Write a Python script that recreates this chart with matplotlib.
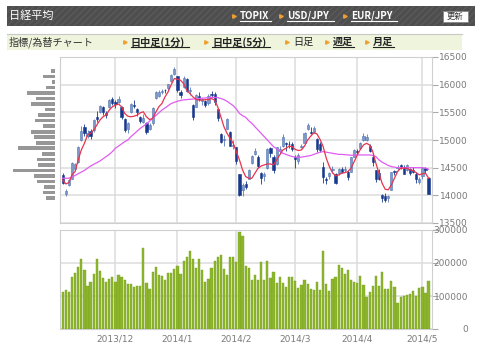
import matplotlib.pyplot as plt
import numpy as np
from matplotlib.patches import Rectangle
from matplotlib.lines import Line2D

# daily candles, 2013/11/7 - 2014/5/7 (119 trading days)
opens = [14370, 14020, 14180, 14300, 14480, 14600, 15000, 15230, 15080, 15170,
         15180, 15420, 15500, 15600, 15480, 15600, 15750, 15680, 15680, 15600,
         15380, 15200, 15500, 15640, 15560, 15420, 15330, 15300, 15200, 15300,
         15760, 15800, 15860, 15900, 15940, 16060, 16200, 16150, 15870, 15950,
         16100, 15890, 15640, 15600, 15800, 15700, 15700, 15660, 15830, 15840,
         15560, 15100, 15000, 15200, 15150, 14890, 14870, 14380, 14100, 14200,
         14300, 14580, 14750, 14700, 14400, 14350, 14500, 14850, 14700, 14560,
         14800, 14900, 14950, 14930, 14920, 14700, 14620, 14880, 14950, 15200,
         15140, 15140, 15020, 14920, 14520, 14290, 14350, 14460, 14380, 14400,
         14480, 14460, 14420, 14430, 14700, 14800, 14850, 15000, 15000, 14900,
         14700, 14450, 14400, 14010, 13990, 13960, 14100, 14440, 14500, 14540,
         14520, 14450, 14480, 14450, 14380, 14250, 14350, 14490, 14310]
highs = [14400, 14110, 14290, 14600, 14580, 14900, 15250, 15290, 15180, 15200,
         15380, 15520, 15640, 15620, 15530, 15750, 15780, 15720, 15800, 15610,
         15400, 15320, 15660, 15720, 15570, 15440, 15470, 15330, 15300, 15600,
         15880, 15900, 15930, 15920, 16020, 16200, 16320, 16160, 15900, 16160,
         16120, 15950, 15650, 15830, 15860, 15760, 15720, 15830, 15880, 15870,
         15570, 15120, 15090, 15400, 15160, 15000, 14880, 14390, 14220, 14260,
         14480, 14720, 14860, 14720, 14420, 14430, 14850, 14880, 14720, 14870,
         14900, 15100, 14970, 14990, 14960, 14720, 14760, 14930, 15150, 15310,
         15230, 15250, 15040, 14960, 14610, 14330, 14430, 14530, 14410, 14500,
         14510, 14530, 14460, 14700, 14840, 14830, 14960, 15120, 15100, 14920,
         14720, 14460, 14470, 14020, 14040, 14010, 14420, 14460, 14550, 14560,
         14540, 14570, 14500, 14520, 14420, 14330, 14500, 14520, 14330]
lows = [14200, 13990, 14160, 14290, 14440, 14590, 14990, 15080, 15030, 15020,
        15150, 15330, 15480, 15450, 15400, 15580, 15640, 15580, 15660, 15380,
        15150, 15130, 15480, 15570, 15440, 15300, 15300, 15110, 15180, 15280,
        15740, 15780, 15830, 15850, 15910, 16040, 16170, 15860, 15760, 15940,
        15860, 15820, 15360, 15590, 15700, 15640, 15600, 15640, 15780, 15640,
        15350, 14950, 14900, 15190, 14890, 14830, 14560, 13990, 13980, 14120,
        14290, 14560, 14720, 14500, 14200, 14260, 14480, 14700, 14400, 14550,
        14750, 14880, 14800, 14860, 14800, 14500, 14570, 14850, 14940, 15180,
        15100, 15130, 14780, 14780, 14230, 14200, 14300, 14400, 14200, 14370,
        14400, 14420, 14280, 14420, 14690, 14740, 14840, 14980, 14990, 14780,
        14530, 14250, 14280, 13880, 13880, 13880, 14090, 14360, 14460, 14470,
        14380, 14440, 14360, 14400, 14220, 14200, 14300, 14410, 14020]
closes = [14228, 14086, 14269, 14588, 14567, 14876, 15165, 15126, 15127, 15076,
          15365, 15381, 15619, 15515, 15449, 15727, 15661, 15655, 15749, 15407,
          15177, 15299, 15650, 15611, 15515, 15341, 15403, 15152, 15279, 15586,
          15859, 15870, 15889, 15895, 16009, 16178, 16291, 15908, 15814, 16121,
          15880, 15912, 15422, 15808, 15747, 15734, 15641, 15795, 15820, 15695,
          15391, 14972, 15006, 15383, 14900, 14914, 14619, 14008, 14181, 14155,
          14462, 14718, 14800, 14534, 14313, 14393, 14843, 14766, 14449, 14865,
          14837, 15051, 14923, 14923, 14841, 14652, 14721, 14897, 15134, 15274,
          15120, 15224, 14830, 14815, 14327, 14277, 14411, 14462, 14224, 14475,
          14423, 14477, 14338, 14696, 14827, 14791, 14946, 15071, 15063, 14808,
          14606, 14299, 14300, 13960, 13910, 13996, 14418, 14417, 14516, 14512,
          14388, 14546, 14404, 14429, 14288, 14304, 14485, 14457, 14033]

# moving averages as drawn on the chart
ma_short = [14278, 14206, 14230, 14370, 14430, 14640, 14820, 14940, 15090, 15120,
            15180, 15270, 15360, 15420, 15450, 15540, 15600, 15630, 15650, 15600,
            15480, 15430, 15420, 15430, 15450, 15490, 15510, 15420, 15370, 15390,
            15500, 15600, 15660, 15780, 15870, 16000, 16110, 16100, 16080, 16020,
            15900, 15840, 15780, 15735, 15720, 15720, 15730, 15730, 15750, 15720,
            15600, 15420, 15240, 15120, 15030, 14940, 14790, 14640, 14460, 14340,
            14308, 14308, 14400, 14490, 14530, 14550, 14567, 14567, 14550, 14640,
            14730, 14820, 14850, 14890, 14880, 14830, 14810, 14820, 14890, 15000,
            15070, 15130, 15110, 15010, 14880, 14670, 14520, 14410, 14350, 14370,
            14400, 14410, 14430, 14490, 14610, 14730, 14830, 14910, 14940, 14910,
            14790, 14580, 14400, 14220, 14110, 14100, 14190, 14310, 14430, 14490,
            14490, 14490, 14460, 14450, 14410, 14370, 14390, 14400, 14310]
ma_long = [14308, 14308, 14310, 14330, 14360, 14390, 14420, 14450, 14490, 14530,
           14560, 14590, 14620, 14660, 14700, 14740, 14790, 14850, 14890, 14930,
           14970, 15000, 15060, 15110, 15160, 15210, 15250, 15290, 15340, 15390,
           15440, 15490, 15540, 15580, 15620, 15660, 15680, 15700, 15715, 15725,
           15730, 15735, 15740, 15745, 15750, 15755, 15760, 15765, 15770, 15770,
           15765, 15750, 15730, 15700, 15660, 15620, 15560, 15480, 15440, 15410,
           15350, 15300, 15240, 15180, 15120, 15060, 15000, 14940, 14880, 14840,
           14800, 14760, 14740, 14720, 14700, 14690, 14690, 14690, 14700, 14710,
           14720, 14740, 14760, 14780, 14790, 14780, 14770, 14760, 14750, 14740,
           14740, 14735, 14730, 14725, 14725, 14730, 14730, 14730, 14730, 14730,
           14720, 14700, 14640, 14600, 14570, 14540, 14520, 14510, 14500, 14500,
           14500, 14500, 14500, 14500, 14500, 14500, 14500, 14490, 14470]

volumes = [111000, 117000, 113000, 158000, 171000, 188000, 211000, 180000, 129000, 141000,
           168000, 211000, 176000, 155000, 143000, 153000, 158000, 143000, 165000, 157000,
           149000, 135000, 136000, 126000, 129000, 131000, 246000, 138000, 120000, 174000,
           189000, 164000, 161000, 147000, 171000, 171000, 182000, 192000, 166000, 205000,
           217000, 236000, 213000, 185000, 213000, 180000, 141000, 153000, 185000, 206000,
           219000, 224000, 182000, 164000, 219000, 218000, 203000, 295000, 281000, 192000,
           185000, 150000, 164000, 148000, 203000, 150000, 205000, 154000, 173000, 140000,
           159000, 140000, 126000, 159000, 159000, 146000, 125000, 132000, 149000, 137000,
           120000, 118000, 141000, 117000, 236000, 137000, 115000, 153000, 157000, 195000,
           185000, 166000, 178000, 150000, 141000, 138000, 162000, 133000, 96000, 113000,
           131000, 162000, 129000, 174000, 120000, 120000, 144000, 126000, 78000, 96000,
           99000, 102000, 106000, 114000, 99000, 124000, 128000, 108000, 144000]

# volume by price (relative), 100-yen bins
vp_prices = [16250, 16150, 16050, 15950, 15850, 15750, 15650, 15550, 15450, 15350, 15250, 15150,
             15050, 14950, 14850, 14750, 14650, 14550, 14450, 14350, 14250, 14150, 14050, 13950]
vp_values = [4.0, 12.3, 3.3, 9.3, 27.7, 19.0, 24.0, 10.0, 16.7, 20.0, 11.7, 24.0,
             21.0, 19.0, 37.3, 12.7, 17.7, 16.7, 41.7, 21.0, 17.7, 10.7, 12.3, 9.3]

month_pos = [17, 37, 56, 75, 95, 116]
month_labels = ['2013/12', '2014/1', '2014/2', '2014/3', '2014/4', '2014/5']

W, H = 480, 357
def fx(px):
    return px / W
def fy(py):
    return 1 - py / H

JP = ['Noto Sans CJK JP', 'DejaVu Sans']
grid_c = '#dcdcdc'
frame_c = '#cfcfcf'
lab_c = '#7a7a7a'

fig = plt.figure(figsize=(4.8, 3.57), dpi=100)

# ---- header bars ----
fig.add_artist(Rectangle((fx(7), fy(26)), 468 / W, 20 / H, transform=fig.transFigure,
                         facecolor='#4e4e4e', edgecolor='#5a5a5a', hatch='/////', lw=0))
fig.text(fx(9), fy(16), '日経平均', color='white', fontsize=8, va='center', family=JP)
for x0, x1, txt in [(240, 271, 'TOPIX'), (287, 334, 'USD/JPY'), (351, 397, 'EUR/JPY')]:
    fig.add_artist(Line2D([fx(x0 - 6)], [fy(16)], marker='>', ms=2.5, color='#f0a030',
                          lw=0, transform=fig.transFigure))
    fig.text(fx(x0), fy(16), txt, color='white', fontsize=7, fontweight='bold', va='center', family=JP)
    fig.add_artist(Line2D([fx(x0), fx(x1)], [fy(21), fy(21)], color='white', lw=0.8,
                          transform=fig.transFigure))
fig.add_artist(Rectangle((fx(443), fy(22)), 25 / W, 11 / H, transform=fig.transFigure,
                         facecolor='white', edgecolor='#888', lw=0.6, zorder=5))
fig.text(fx(455.5), fy(16.5), '更新', color='#333', fontsize=6, ha='center', va='center',
         family=JP, zorder=6)

fig.add_artist(Rectangle((fx(7), fy(50)), 455 / W, 16 / H, transform=fig.transFigure,
                         facecolor='#eef5dc', lw=0))
fig.add_artist(Line2D([fx(7), fx(462)], [fy(33.5), fy(33.5)], color='#c8c8c8', lw=0.8,
                      transform=fig.transFigure))
fig.text(fx(9), fy(42), '指標/為替チャート', color='#333', fontsize=7.3, va='center', family=JP)
for x0, x1, txt, link in [(131, 189, '日中足(1分)', True), (212, 270, '日中足(5分)', True),
                          (293, 313, '日足', False), (333, 354, '週足', True), (373, 394, '月足', True)]:
    fig.add_artist(Line2D([fx(x0 - 6)], [fy(42)], marker='>', ms=2.5, color='#f0a030',
                          lw=0, transform=fig.transFigure))
    fig.text(fx(x0), fy(42), txt, color='#222', fontsize=7.3,
             fontweight='bold' if link else 'normal', va='center', family=JP)
    if link:
        fig.add_artist(Line2D([fx(x0), fx(x1)], [fy(46.5), fy(46.5)], color='#222', lw=0.8,
                              transform=fig.transFigure))

# ---- price panel ----
ax = fig.add_axes([fx(60), fy(223), 372 / W, 166 / H])
x = np.arange(len(closes))
o = np.array(opens)
c = np.array(closes)
up = c >= o
body_lo = np.minimum(o, c)
body_h = np.maximum(np.abs(c - o), 12)
col_up, col_dn = '#7f99c9', '#17398d'
ax.vlines(x[up], np.array(lows)[up], np.array(highs)[up], color='#5d7bb8', lw=0.6, zorder=2)
ax.vlines(x[~up], np.array(lows)[~up], np.array(highs)[~up], color=col_dn, lw=0.6, zorder=2)
ax.bar(x[up], body_h[up], bottom=body_lo[up], width=0.72, color=col_up,
       edgecolor='#5073b3', lw=0.4, zorder=3)
ax.bar(x[~up], body_h[~up], bottom=body_lo[~up], width=0.72, color=col_dn,
       edgecolor=col_dn, lw=0.4, zorder=3)
ax.plot(x, ma_long, color='#e05cf2', lw=0.9, zorder=4)
ax.plot(x, ma_short, color='#e8344e', lw=0.9, zorder=4)

ax.set_xlim(-0.87, 119.1)
ax.set_ylim(13500, 16500)
ax.set_xticks(month_pos)
ax.set_yticks(range(13500, 17000, 500))
ax.yaxis.tick_right()
ax.grid(True, color=grid_c, lw=1.1)
ax.set_axisbelow(True)
ax.tick_params(axis='x', length=0, labelbottom=False)
ax.tick_params(axis='y', direction='out', length=4, color='#aaa', labelsize=6.5,
               labelcolor=lab_c, pad=22)
for lbl in ax.get_yticklabels():
    lbl.set_ha('right')
for sp in ax.spines.values():
    sp.set_color(frame_c)

# ---- volume by price (left) ----
axp = fig.add_axes([fx(10), fy(223), 45 / W, 166 / H])
axp.barh(vp_prices, vp_values, height=66, color='#979797')
axp.set_xlim(45, 0)
axp.set_ylim(13500, 16500)
axp.axis('off')

# ---- volume panel ----
axv = fig.add_axes([fx(60), fy(329), 372 / W, 99 / H])
axv.bar(x, volumes, width=0.72, color='#8db52c', edgecolor='#7aa31f', lw=0.3, zorder=3)
axv.set_xlim(-0.87, 119.1)
axv.set_ylim(0, 300000)
axv.set_xticks(month_pos)
axv.set_xticklabels(month_labels)
axv.set_yticks([0, 100000, 200000, 300000])
axv.set_yticklabels(['0', '100000', '200000', '300000'])
axv.yaxis.tick_right()
axv.grid(True, color=grid_c, lw=1.1)
axv.set_axisbelow(True)
axv.tick_params(axis='x', length=0, labelsize=6.5, labelcolor=lab_c, pad=4)
axv.tick_params(axis='y', direction='out', length=4, color='#aaa', labelsize=6.5,
                labelcolor=lab_c, pad=22)
for lbl in axv.get_yticklabels():
    lbl.set_ha('right')
for sp in axv.spines.values():
    sp.set_color(frame_c)

fig.savefig('out.png', dpi=100)
